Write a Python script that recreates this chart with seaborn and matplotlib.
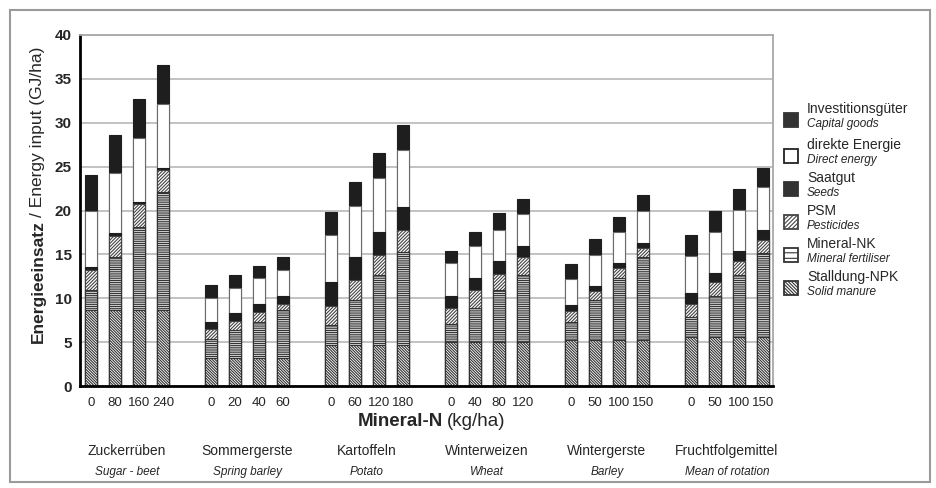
import numpy as np
import pandas as pd
import matplotlib
matplotlib.use("Agg")
import matplotlib.pyplot as plt
import seaborn as sns
from matplotlib import font_manager
from matplotlib.patches import Rectangle

# ---------------- data ----------------
crops_de = ["Zuckerrüben", "Sommergerste", "Kartoffeln", "Winterweizen", "Wintergerste", "Fruchtfolgemittel"]
crops_en = ["Sugar - beet", "Spring barley", "Potato", "Wheat", "Barley", "Mean of rotation"]
n_labels = [["0", "80", "160", "240"], ["0", "20", "40", "60"], ["0", "60", "120", "180"],
            ["0", "40", "80", "120"], ["0", "50", "100", "150"], ["0", "50", "100", "150"]]

stalldung = [8.7, 8.7, 8.7, 8.7, 3.2, 3.2, 3.2, 3.2, 4.7, 4.7, 4.7, 4.7,
             5.05, 5.05, 5.05, 5.05, 5.2, 5.2, 5.2, 5.2, 5.6, 5.6, 5.6, 5.6]
mineral = [2.2, 6.0, 9.4, 13.4, 2.2, 3.2, 4.1, 5.5, 2.2, 5.1, 7.9, 10.6,
           2.05, 3.8, 5.85, 7.55, 2.1, 4.6, 7.1, 9.45, 2.3, 4.6, 7.0, 9.5]
psm = [2.3, 2.4, 2.6, 2.5, 1.05, 1.0, 1.1, 0.7, 2.2, 2.3, 2.3, 2.5,
       1.75, 2.05, 1.9, 2.05, 1.2, 1.0, 1.1, 1.1, 1.4, 1.7, 1.7, 1.5]
saatgut = [0.4, 0.3, 0.3, 0.3, 0.85, 0.9, 0.9, 0.8, 2.8, 2.6, 2.7, 2.6,
           1.4, 1.4, 1.4, 1.25, 0.7, 0.6, 0.6, 0.55, 1.25, 1.0, 1.1, 1.2]
direkt = [6.4, 6.9, 7.3, 7.2, 2.75, 2.9, 3.0, 3.0, 5.3, 5.8, 6.05, 6.5,
          3.75, 3.6, 3.6, 3.65, 2.95, 3.5, 3.6, 3.7, 4.25, 4.7, 4.7, 4.9]
invest = [4.0, 4.3, 4.4, 4.5, 1.45, 1.5, 1.4, 1.45, 2.65, 2.8, 2.95, 2.9,
          1.4, 1.7, 1.9, 1.75, 1.7, 1.8, 1.7, 1.8, 2.4, 2.4, 2.4, 2.1]

legend_de = ["Investitionsgüter", "direkte Energie", "Saatgut", "PSM", "Mineral-NK", "Stalldung-NPK"]
legend_en = ["Capital goods", "Direct energy", "Seeds", "Pesticides", "Mineral fertiliser", "Solid manure"]

# ---------------- style ----------------
sns.set_style("white")
names = {f.name for f in font_manager.fontManager.ttflist}
base = "Liberation Sans" if "Liberation Sans" in names else "DejaVu Sans"
plt.rcParams["font.family"] = [base, "DejaVu Sans"]
plt.rcParams["hatch.linewidth"] = 0.8

W, H = 936, 488
fig = plt.figure(figsize=(W / 100, H / 100), dpi=100)
fig.patch.set_facecolor("white")


def fx(x):
    return x / W


def fy(y):
    return 1 - y / H


ax = fig.add_axes([fx(80), fy(386), (773 - 80) / W, (386 - 35) / H])

# bar positions: 4 bars per crop, one empty slot between crops
pos = [g * 5 + i for g in range(6) for i in range(4)]
tick_text = [lab for grp in n_labels for lab in grp]

stack = np.vstack([stalldung, mineral, psm, saatgut, direkt, invest])
cum = np.cumsum(stack, axis=0)

seg_styles = [
    dict(color="white", hatch="\\" * 12, edgecolor="#333333"),   # Stalldung
    dict(color="white", hatch="-" * 9, edgecolor="#333333"),     # Mineral-NK
    dict(color="white", hatch="/" * 10, edgecolor="#444444"),    # PSM
    dict(color="#1e1e1e", hatch=None, edgecolor="#1e1e1e"),      # Saatgut
    dict(color="white", hatch=None, edgecolor="#6a6a6a"),        # direkte Energie
    dict(color="#1e1e1e", hatch=None, edgecolor="#1e1e1e"),      # Investitionsgüter
]

for k in reversed(range(6)):
    st = seg_styles[k]
    df = pd.DataFrame({"pos": pos, "val": cum[k]})
    kw = dict(edgecolor=st["edgecolor"], linewidth=0.8)
    if st["hatch"]:
        kw["hatch"] = st["hatch"]
    sns.barplot(data=df, x="pos", y="val", native_scale=True, width=0.52,
                color=st["color"], saturation=1, errorbar=None, ax=ax, **kw)

ax.set_xlim(-0.46, 28.42)
ax.set_ylim(0, 40)
ax.set_yticks(range(0, 41, 5))
ax.set_yticklabels([str(v) for v in range(0, 41, 5)], fontsize=11, fontweight="bold")
ax.set_xticks(pos)
ax.set_xticklabels(tick_text, fontsize=9.5)
ax.tick_params(axis="both", length=0)
ax.tick_params(axis="y", pad=6)
ax.tick_params(axis="x", pad=8)
ax.set_xlabel("")
ax.set_ylabel("")
ax.yaxis.grid(True, color="#bdbdbd", lw=1.3)
ax.set_axisbelow(True)
for s in ["left", "bottom"]:
    ax.spines[s].set_color("black")
    ax.spines[s].set_linewidth(2)
for s in ["top", "right"]:
    ax.spines[s].set_color("#a8a8a8")
    ax.spines[s].set_linewidth(1.3)

# group labels
trans = ax.get_xaxis_transform()
for g in range(6):
    cx = g * 5 + 1.5
    ax.text(cx, -(451 - 386) / (386 - 35), crops_de[g], transform=trans, ha="center", va="center",
            fontsize=10)
    ax.text(cx, -(472 - 386) / (386 - 35), crops_en[g], transform=trans, ha="center", va="center",
            fontsize=8.5, style="italic")

fig.canvas.draw()
r = fig.canvas.get_renderer()

# x axis title (mixed weight)
t1 = fig.text(fx(358), fy(421), "Mineral-N", fontsize=13.5, fontweight="bold", ha="left", va="center")
bb = t1.get_window_extent(r)
fig.text((bb.x1 + 4) / W, fy(421), "(kg/ha)", fontsize=13.5, ha="left", va="center")

# y axis title (mixed weight, rotated)
t3 = fig.text(fx(38), fy(343), "Energieeinsatz", rotation=90, fontsize=12.5, fontweight="bold",
              ha="center", va="bottom")
bb = t3.get_window_extent(r)
fig.text(fx(38), (bb.y1 + 3) / H, "/ Energy input (GJ/ha)", rotation=90, fontsize=12.5,
         ha="center", va="bottom")

# legend
leg_y = [120, 156, 189, 222, 255, 288]
leg_style = [
    dict(fc="#333333", ec="#333333", hatch=None),
    dict(fc="white", ec="#222222", hatch=None),
    dict(fc="#333333", ec="#333333", hatch=None),
    dict(fc="white", ec="#444444", hatch="/" * 8),
    dict(fc="white", ec="#333333", hatch="---"),
    dict(fc="white", ec="#333333", hatch="\\" * 10),
]
for i in range(6):
    yc = leg_y[i]
    st = leg_style[i]
    fig.add_artist(Rectangle((fx(784), fy(yc + 7)), 14 / W, 14 / H, transform=fig.transFigure,
                             facecolor=st["fc"], edgecolor=st["ec"], hatch=st["hatch"], lw=1.3))
    fig.text(fx(807), fy(yc - 11), legend_de[i], fontsize=10, ha="left", va="center")
    fig.text(fx(807), fy(yc + 4), legend_en[i], fontsize=8.5, style="italic", ha="left", va="center")

# outer frame
fig.add_artist(Rectangle((fx(10), fy(482)), 920 / W, 472 / H, transform=fig.transFigure,
                         fill=False, edgecolor="#9a9a9a", lw=1.5))

fig.savefig("out.png", dpi=100, facecolor="white")
